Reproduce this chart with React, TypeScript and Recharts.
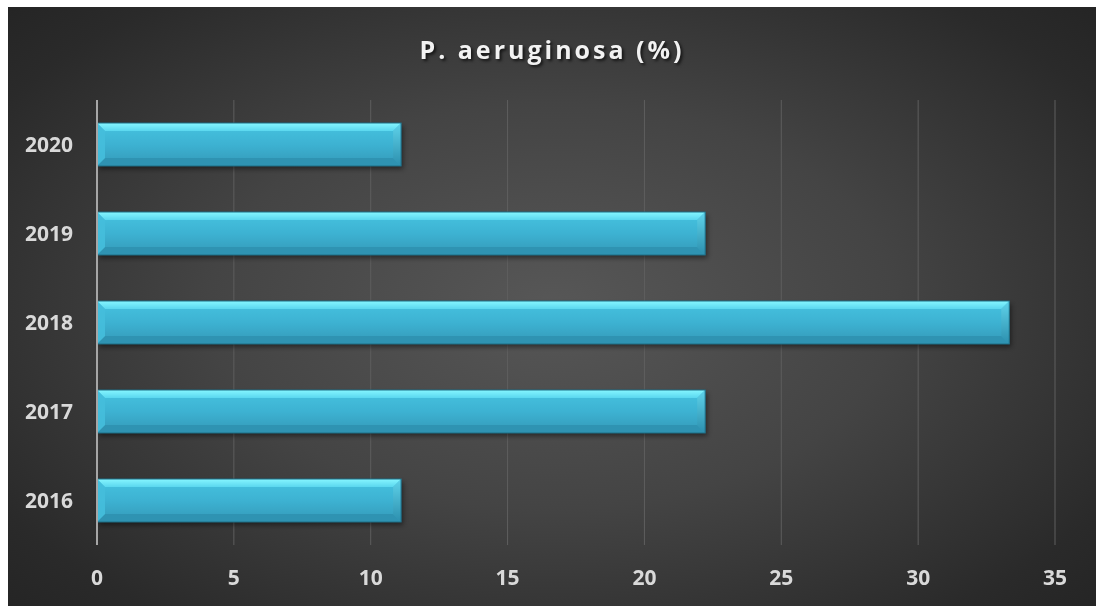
import React from 'react';
import { BarChart, Bar, XAxis, YAxis, CartesianGrid } from 'recharts';

const years = ['2016', '2017', '2018', '2019', '2020'];
const rates = [11.11, 22.22, 33.33, 22.22, 11.11];
const xTicks = [0, 5, 10, 15, 20, 25, 30, 35];

const data = years.map((year, i) => ({ year, value: rates[i] }));

const W = 1088;
const H = 599;

// Bevelled bar with a soft drop shadow
const BevelBar = (props: any) => {
  const { x, y, width, height } = props;
  if (!width || width <= 0) return null;
  const b = 8;
  const x2 = x + width;
  const y2 = y + height;
  return (
    <g>
      <rect x={x + 2} y={y + 3} width={width} height={height} fill="#000" opacity={0.45} filter="url(#barShadow)" />
      <rect x={x} y={y} width={width} height={height} fill="url(#barFace)" />
      <polygon points={`${x},${y} ${x2},${y} ${x2 - b},${y + b} ${x + b},${y + b}`} fill="url(#barTop)" />
      <polygon points={`${x},${y2} ${x2},${y2} ${x2 - b},${y2 - b} ${x + b},${y2 - b}`} fill="#2f93b2" />
      <polygon points={`${x},${y} ${x + b},${y + b} ${x + b},${y2 - b} ${x},${y2}`} fill="#45bedc" opacity={0.9} />
      <polygon points={`${x2},${y} ${x2 - b},${y + b} ${x2 - b},${y2 - b} ${x2},${y2}`} fill="url(#barRight)" />
      <rect x={x} y={y} width={width} height={height} fill="none" stroke="#1f6e86" strokeWidth={1} />
    </g>
  );
};

const tickStyle = { fill: '#d9d9d9', fontSize: 21, fontWeight: 700, fontFamily: '"Open Sans", sans-serif' };

export default function App() {
  return (
    <div
      style={{
        position: 'fixed',
        left: 8,
        top: 7,
        width: W,
        height: H,
        background: 'radial-gradient(ellipse 70% 75% at 50% 50%, #575757 0%, #444 45%, #2a2a2a 85%, #242424 100%)',
        overflow: 'hidden',
      }}
    >
      <div
        style={{
          position: 'absolute',
          left: 0,
          top: 25,
          width: W,
          textAlign: 'center',
          fontFamily: '"Open Sans", sans-serif',
          fontWeight: 700,
          fontSize: 25,
          letterSpacing: 3,
          color: '#f2f2f2',
          textShadow: '2px 2px 3px rgba(0,0,0,0.65)',
        }}
      >
        P. aeruginosa (%)
      </div>
      <BarChart
        width={W}
        height={H}
        data={data}
        layout="vertical"
        margin={{ top: 93, right: 41, bottom: 21, left: 9 }}
        barSize={43}
      >
        <defs>
          <linearGradient id="barFace" x1="0" y1="0" x2="0" y2="1">
            <stop offset="0%" stopColor="#46c3e0" />
            <stop offset="50%" stopColor="#3db2d2" />
            <stop offset="100%" stopColor="#3499b8" />
          </linearGradient>
          <linearGradient id="barTop" x1="0" y1="0" x2="0" y2="1">
            <stop offset="0%" stopColor="#86f6ff" />
            <stop offset="100%" stopColor="#5ad7ef" />
          </linearGradient>
          <linearGradient id="barRight" x1="0" y1="0" x2="0" y2="1">
            <stop offset="0%" stopColor="#5fd3ea" />
            <stop offset="100%" stopColor="#2c8fae" />
          </linearGradient>
          <filter id="barShadow" x="-5%" y="-30%" width="110%" height="160%">
            <feGaussianBlur stdDeviation="2.5" />
          </filter>
        </defs>
        <CartesianGrid horizontal={false} vertical stroke="#5e5e5e" strokeWidth={1} />
        <XAxis
          type="number"
          domain={[0, 35]}
          ticks={xTicks}
          axisLine={false}
          tickLine={false}
          tickSize={0}
          tickMargin={25}
          height={40}
          tick={tickStyle}
        />
        <YAxis
          type="category"
          dataKey="year"
          reversed
          width={80}
          axisLine={{ stroke: '#a6a6a6', strokeWidth: 2 }}
          tickLine={false}
          tickSize={0}
          tickMargin={24}
          tick={tickStyle}
        />
        <Bar dataKey="value" shape={<BevelBar />} isAnimationActive={false} />
      </BarChart>
    </div>
  );
}
